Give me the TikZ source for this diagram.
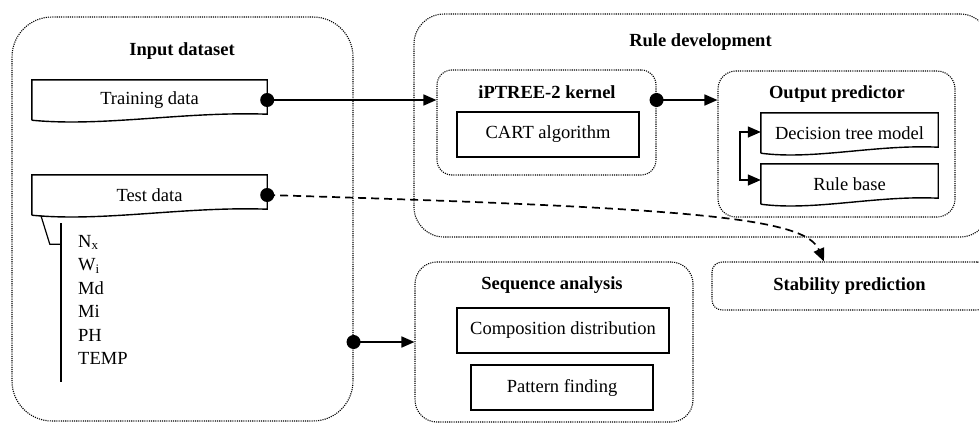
\documentclass[tikz,border=0pt]{standalone}
\usepackage{fontspec}
\setmainfont{Liberation Serif}
\usetikzlibrary{arrows.meta,calc}

\tikzset{
  txt/.style={font=\fontsize{18.5}{22}\selectfont, inner sep=0pt},
  grouptitle/.style={font=\fontsize{18.5}{22}\selectfont\bfseries, inner sep=0pt},
  group/.style={draw, line width=1.1pt, dash pattern=on 1.1pt off 1.1pt,
                rounded corners=#1, inner sep=0pt},
  plainbox/.style={txt, draw, line width=1.4pt},
  docbox/.style={txt, minimum height=40pt},
  docline/.style={line width=1.4pt, line join=miter},
  thinline/.style={line width=1.2pt},
  tip/.tip={Triangle[length=13pt,width=11pt]},
  link/.style={line width=1.7pt, -tip},
  dashlink/.style={link, dash pattern=on 8pt off 5pt},
}

% wavy-bottom "document" outline drawn around a named node
\newcommand\docoutline[1]{%
  \draw[docline] (#1.south west) -- (#1.north west) -- (#1.north east)
    -- ([yshift=6pt]#1.south east)
    .. controls ($(#1.south west)!0.65!(#1.south east)+(0,9pt)$)
           and ($(#1.south west)!0.3!(#1.south east)+(0,-7pt)$)
    .. (#1.south west);}

\begin{document}
\begin{tikzpicture}[x=1pt,y=-1pt]
\useasboundingbox (0,0) rectangle (979,423);
\fill[white] (0,0) rectangle (979,423);
\clip (0,0) rectangle (979,423);

% containers
\node[group=40pt, minimum width=341pt, minimum height=404pt] (inp)  at (182.5,219) {};
\node[group=30pt, minimum width=576pt, minimum height=223pt] (rule) at (702,125.5) {};
\node[group=15pt, minimum width=219pt, minimum height=105pt] (ker)  at (546.5,122.5) {};
\node[group=18pt, minimum width=237pt, minimum height=146pt] (outp) at (836.5,144) {};
\node[group=22pt, minimum width=278pt, minimum height=160pt] (seq)  at (554,342) {};
\node[group=10pt, minimum width=275pt, minimum height=48pt,
      font=\fontsize{18.5}{22}\selectfont\bfseries] (stab) at (849.5,286) {Stability prediction};

% container titles
\node[grouptitle] (inpT)  at (182,51)    {Input dataset};
\node[grouptitle] (ruleT) at (700.5,42)  {Rule development};
\node[grouptitle] (kerT)  at (547,92)    {iPTREE-2 kernel};
\node[grouptitle] (outpT) at (837,94)    {Output predictor};
\node[grouptitle] (seqT)  at (552,285)   {Sequence analysis};

% process boxes
\node[plainbox, minimum width=182pt, minimum height=45pt] (cart) at (548,134.5) {CART algorithm};
\node[plainbox, minimum width=212pt, minimum height=45pt] (comp) at (563,330.5) {Composition distribution};
\node[plainbox, minimum width=182pt, minimum height=45pt] (patt) at (562,387.5) {Pattern finding};

% documents
\node[docbox, minimum width=235pt] (train) at (149.5,100) {Training data};
\node[docbox, minimum width=235pt] (test)  at (149.5,195) {Test data};
\node[docbox, minimum width=177pt] (dtm)   at (849.5,133) {Decision tree model};
\node[docbox, minimum width=177pt] (rb)    at (849.5,184) {Rule base};
\docoutline{train}
\docoutline{test}
\docoutline{dtm}
\docoutline{rb}

% attribute list of the test data
\draw[thinline] ([xshift=9pt]test.south west) -- ++(9,29) -- ++(11,0);
\draw[thinline] (61,223) -- (61,382);
\node[txt, anchor=base west] (nx)   at (78,247)   {N\textsubscript{x}};
\node[txt, anchor=base west] (wi)   at (78,270.5) {W\textsubscript{i}};
\node[txt, anchor=base west] (md)   at (78,294)   {Md};
\node[txt, anchor=base west] (mi)   at (78,317.5) {Mi};
\node[txt, anchor=base west] (ph)   at (78,341)   {PH};
\node[txt, anchor=base west] (temp) at (78,364.5) {TEMP};

% connectors
\draw[link] (train.east) -- (train.east -| ker.west);
\fill (train.east) circle[radius=7pt];

\draw[link] (train.east -| ker.east) -- (train.east -| outp.west);
\fill (train.east -| ker.east) circle[radius=7pt];

\draw[link] (inp.east |- seq.west) -- (seq.west);
\fill (inp.east |- seq.west) circle[radius=7pt];

\draw[dashlink] (test.east) .. controls (700,208) and (805,218) .. ([xshift=-25.5pt]stab.north);
\fill (test.east) circle[radius=7pt];

\draw[line width=1.4pt, tip-tip] ([yshift=1pt]dtm.west) -- ++(-21,0) |- ([yshift=4pt]rb.west);
\end{tikzpicture}
\end{document}
